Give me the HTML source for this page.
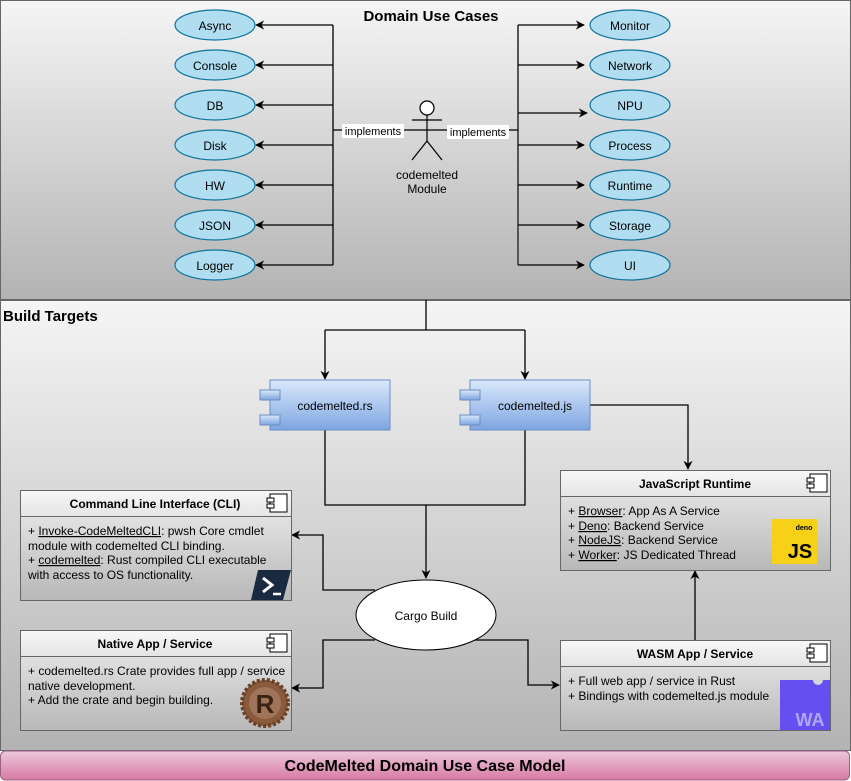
<!DOCTYPE html>
<html><head><meta charset="utf-8"><style>
html,body{margin:0;padding:0;background:#fff}
svg{display:block}
text{font-family:"Liberation Sans",Arial,sans-serif}
</style></head><body>
<svg width="851" height="781" viewBox="0 0 851 781" xmlns="http://www.w3.org/2000/svg">
<defs>
<linearGradient id="g1" x1="0" y1="0" x2="0" y2="1"><stop offset="0" stop-color="#f5f5f5"/><stop offset="1" stop-color="#b3b3b3"/></linearGradient>
<linearGradient id="gb" x1="0" y1="0" x2="0" y2="1"><stop offset="0" stop-color="#dae8fc"/><stop offset="1" stop-color="#7ea6e0"/></linearGradient>
<linearGradient id="gp" x1="0" y1="0" x2="0" y2="1"><stop offset="0" stop-color="#ecc8da"/><stop offset="1" stop-color="#d87aa4"/></linearGradient>
<linearGradient id="gh" x1="0" y1="0" x2="0" y2="1"><stop offset="0" stop-color="#f8f8f8"/><stop offset="1" stop-color="#e4e4e4"/></linearGradient>
<linearGradient id="gc" x1="0" y1="0" x2="0" y2="1"><stop offset="0" stop-color="#eeeeee"/><stop offset="1" stop-color="#b8b8b8"/></linearGradient>
<marker id="a" viewBox="0 0 10 10" refX="9" refY="5" markerWidth="7" markerHeight="7" orient="auto"><path d="M0,0 L10,5 L0,10 L3,5 z" fill="#000"/></marker>
</defs>
<rect x="0.5" y="0.5" width="850" height="299" fill="url(#g1)" stroke="#666"/>
<rect x="0.5" y="300.5" width="850" height="450" fill="url(#g1)" stroke="#666"/>
<rect x="0.5" y="751" width="849" height="29" rx="5" fill="url(#gp)" stroke="#996185"/>
<text x="425" y="771" font-size="16" font-weight="bold" text-anchor="middle">CodeMelted Domain Use Case Model</text>
<text x="431" y="21" font-size="15" font-weight="bold" text-anchor="middle">Domain Use Cases</text>
<text x="3" y="321" font-size="15" font-weight="bold">Build Targets</text>

<g fill="none" stroke="#000" stroke-width="1.3">
<path d="M333,25 V265"/>
<path d="M518,25 V265" stroke="#555" stroke-width="2"/>
<path d="M333,130 H518"/>
<path d="M333,25 H256" marker-end="url(#a)"/>
<path d="M333,65 H256" marker-end="url(#a)"/>
<path d="M333,105 H256" marker-end="url(#a)"/>
<path d="M333,145 H256" marker-end="url(#a)"/>
<path d="M333,185 H256" marker-end="url(#a)"/>
<path d="M333,225 H256" marker-end="url(#a)"/>
<path d="M333,265 H256" marker-end="url(#a)"/>
<path d="M518,25 H584" marker-end="url(#a)"/>
<path d="M518,65 H584" marker-end="url(#a)"/>
<path d="M518,113 H587" marker-end="url(#a)"/>
<path d="M518,145 H584" marker-end="url(#a)"/>
<path d="M518,185 H584" marker-end="url(#a)"/>
<path d="M518,225 H584" marker-end="url(#a)"/>
<path d="M518,265 H584" marker-end="url(#a)"/>
</g>
<g fill="#b1ddf0" stroke="#10739e" stroke-width="1.2">
<ellipse cx="215" cy="25" rx="40" ry="15"/><ellipse cx="215" cy="65" rx="40" ry="15"/><ellipse cx="215" cy="105" rx="40" ry="15"/><ellipse cx="215" cy="145" rx="40" ry="15"/><ellipse cx="215" cy="185" rx="40" ry="15"/><ellipse cx="215" cy="225" rx="40" ry="15"/><ellipse cx="215" cy="265" rx="40" ry="15"/>
<ellipse cx="630" cy="25" rx="40" ry="15"/><ellipse cx="630" cy="65" rx="40" ry="15"/><ellipse cx="630" cy="105" rx="40" ry="15"/><ellipse cx="630" cy="145" rx="40" ry="15"/><ellipse cx="630" cy="185" rx="40" ry="15"/><ellipse cx="630" cy="225" rx="40" ry="15"/><ellipse cx="630" cy="265" rx="40" ry="15"/>
</g>
<g font-size="12" text-anchor="middle">
<text x="215" y="30">Async</text><text x="215" y="70">Console</text><text x="215" y="110">DB</text><text x="215" y="150">Disk</text><text x="215" y="190">HW</text><text x="215" y="230">JSON</text><text x="215" y="270">Logger</text>
<text x="630" y="30">Monitor</text><text x="630" y="70">Network</text><text x="630" y="110">NPU</text><text x="630" y="150">Process</text><text x="630" y="190">Runtime</text><text x="630" y="230">Storage</text><text x="630" y="270">UI</text>
</g>
<rect x="342" y="124" width="62" height="14" fill="#fff"/>
<text x="373" y="135" font-size="11" text-anchor="middle">implements</text>
<rect x="447" y="125" width="62" height="14" fill="#fff"/>
<text x="478" y="136" font-size="11" text-anchor="middle">implements</text>
<g fill="none" stroke="#000" stroke-width="1.2">
<circle cx="427" cy="108" r="7" fill="#fff"/>
<path d="M427,115 V141 M412,120 H442 M427,141 L412,160 M427,141 L442,160"/>
</g>
<text x="427" y="179" font-size="12" text-anchor="middle">codemelted</text>
<text x="427" y="193" font-size="12" text-anchor="middle">Module</text>

<g fill="none" stroke="#000" stroke-width="1.3">
<path d="M426,300 V330 M325,330 H525"/>
<path d="M325,330 V379" marker-end="url(#a)"/>
<path d="M525,330 V379" marker-end="url(#a)"/>
<path d="M325,430 V505 H525 V430"/>
<path d="M426,505 V578" marker-end="url(#a)"/>
<path d="M590,405 H688 V469" marker-end="url(#a)"/>
<path d="M695,640 V571" marker-end="url(#a)"/>
<path d="M375,590 H323 V535 H292" marker-end="url(#a)"/>
<path d="M375,640 H323 V688 H292" marker-end="url(#a)"/>
<path d="M475,640 H528 V685 H559" marker-end="url(#a)"/>
</g>
<g stroke="#6c8ebf" fill="url(#gb)">
<rect x="270" y="380" width="120" height="50"/><rect x="260" y="390" width="20" height="10"/><rect x="260" y="415" width="20" height="10"/>
<rect x="470" y="380" width="120" height="50"/><rect x="460" y="390" width="20" height="10"/><rect x="460" y="415" width="20" height="10"/>
</g>
<text x="335" y="410" font-size="12" text-anchor="middle">codemelted.rs</text>
<text x="535" y="410" font-size="12" text-anchor="middle">codemelted.js</text>
<ellipse cx="426" cy="615" rx="70" ry="35" fill="#fff" stroke="#000"/>
<text x="426" y="620" font-size="12" text-anchor="middle">Cargo Build</text>

<!-- component boxes -->
<g stroke="#666">
<rect x="20.5" y="490.5" width="271" height="110" fill="url(#gc)"/><rect x="20.5" y="490.5" width="271" height="26" fill="url(#gh)"/>
<rect x="20.5" y="630.5" width="271" height="100" fill="url(#gc)"/><rect x="20.5" y="630.5" width="271" height="26" fill="url(#gh)"/>
<rect x="560.5" y="470.5" width="270" height="100" fill="url(#gc)"/><rect x="560.5" y="470.5" width="270" height="26" fill="url(#gh)"/>
<rect x="560.5" y="640.5" width="270" height="90" fill="url(#gc)"/><rect x="560.5" y="640.5" width="270" height="26" fill="url(#gh)"/>
</g>
<g fill="#fff" stroke="#000">
<rect x="270" y="494" width="17" height="18"/><rect x="267" y="498" width="7" height="4"/><rect x="267" y="504" width="7" height="4"/>
<rect x="270" y="634" width="17" height="18"/><rect x="267" y="638" width="7" height="4"/><rect x="267" y="644" width="7" height="4"/>
<rect x="810" y="474" width="17" height="18"/><rect x="807" y="478" width="7" height="4"/><rect x="807" y="484" width="7" height="4"/>
<rect x="810" y="644" width="17" height="18"/><rect x="807" y="648" width="7" height="4"/><rect x="807" y="654" width="7" height="4"/>
</g>
<g font-size="12" font-weight="bold" text-anchor="middle">
<text x="155" y="508">Command Line Interface (CLI)</text>
<text x="155" y="648">Native App / Service</text>
<text x="695" y="488">JavaScript Runtime</text>
<text x="695" y="658">WASM App / Service</text>
</g>
<g font-size="12">
<text x="28" y="535">+ <tspan text-decoration="underline">Invoke-CodeMeltedCLI</tspan>: pwsh Core cmdlet</text>
<text x="28" y="550">module with codemelted CLI binding.</text>
<text x="28" y="564">+ <tspan text-decoration="underline">codemelted</tspan>: Rust compiled CLI executable</text>
<text x="28" y="579">with access to OS functionality.</text>
<text x="28" y="675">+ codemelted.rs Crate provides full app / service</text>
<text x="28" y="690">native development.</text>
<text x="28" y="704">+ Add the crate and begin building.</text>
<text x="568" y="515">+ <tspan text-decoration="underline">Browser</tspan>: App As A Service</text>
<text x="568" y="530">+ <tspan text-decoration="underline">Deno</tspan>: Backend Service</text>
<text x="568" y="544">+ <tspan text-decoration="underline">NodeJS</tspan>: Backend Service</text>
<text x="568" y="559">+ <tspan text-decoration="underline">Worker</tspan>: JS Dedicated Thread</text>
<text x="568" y="685">+ Full web app / service in Rust</text>
<text x="568" y="700">+ Bindings with codemelted.js module</text>
</g>
<!-- icons -->
<polygon points="258,570 291,570 283,600 251,600" fill="#1a2a40"/>
<path d="M263,578 L272,585 L263,592" fill="none" stroke="#fff" stroke-width="3"/>
<path d="M273,594 H281" stroke="#fff" stroke-width="2.5"/>
<circle cx="265" cy="703" r="23" fill="#8a5a3c" stroke="#6b4228" stroke-width="4" stroke-dasharray="3 2"/>
<circle cx="265" cy="703" r="16" fill="#a0745a"/>
<text x="265" y="713" font-size="26" font-weight="bold" text-anchor="middle" fill="#3a2214" font-family="Liberation Serif,serif">R</text>
<rect x="772" y="519" width="45" height="45" fill="#f7d117"/>
<text x="804" y="530" font-size="7" font-weight="bold" text-anchor="middle">deno</text>
<text x="800" y="558" font-size="20" font-weight="bold" text-anchor="middle">JS</text>
<path d="M780,680 H813 A5,5 0 0 0 823,680 H830 V730 H780 Z" fill="#654ff0"/>
<text x="810" y="726" font-size="18" font-weight="bold" text-anchor="middle" fill="#b0a6f5">WA</text>
</svg>
</body></html>
